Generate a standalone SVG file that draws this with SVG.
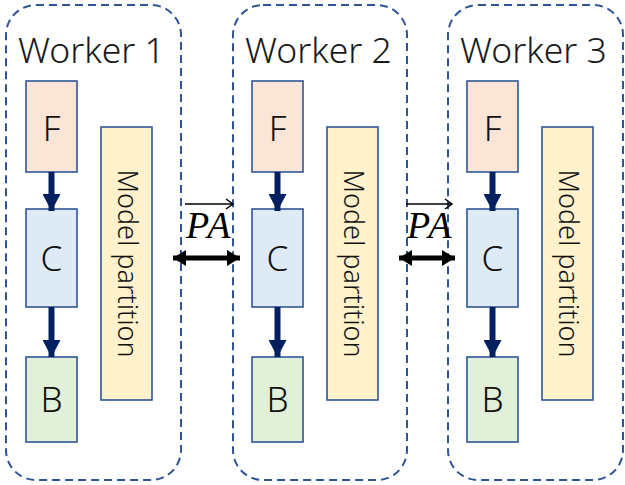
<svg xmlns="http://www.w3.org/2000/svg" width="625" height="485" viewBox="0 0 625 485">
<defs>
<style>
.worker{fill:#fff;stroke:#2F5597;stroke-width:2;stroke-dasharray:8,5}
.box{stroke:#2F5597;stroke-width:1.6}
.f{fill:#FBE5D6}.c{fill:#DEEBF7}.b{fill:#E2F0D9}.m{fill:#FFF2CC}
.title{font-family:"Noto Sans","DejaVu Sans",sans-serif;font-weight:300;font-size:35.5px;fill:#1a1a1a}
.lbl{font-family:"Noto Sans","DejaVu Sans",sans-serif;font-weight:300;font-size:35px;fill:#111;text-anchor:middle}
.mp{font-family:"Noto Sans","DejaVu Sans",sans-serif;font-weight:300;font-size:27px;fill:#111;text-anchor:middle}
.pa{font-family:"Liberation Serif","DejaVu Serif",serif;font-style:italic;font-size:38px;letter-spacing:3px;fill:#000}
.flow{stroke:#002060;stroke-width:6;fill:none}
.dbl{stroke:#000;stroke-width:5;fill:none}
.vec{stroke:#000;stroke-width:1.5;fill:none}
</style>
<marker id="ah" markerUnits="userSpaceOnUse" markerWidth="18" markerHeight="18" refX="17" refY="9" orient="auto">
<path d="M0,0 L17,9 L0,18 Z" fill="#002060"/>
</marker>
<marker id="dh" markerUnits="userSpaceOnUse" markerWidth="14" markerHeight="16" refX="13" refY="8" orient="auto-start-reverse">
<path d="M0,0 L13,8 L0,16 Z" fill="#000"/>
</marker>
<marker id="vh" markerUnits="userSpaceOnUse" markerWidth="10" markerHeight="12" refX="8" refY="6" orient="auto">
<path d="M1,1 L8,6 L1,11" fill="none" stroke="#000" stroke-width="1.5"/>
</marker>
</defs>

<g id="worker1">
<rect class="worker" x="6" y="5" width="175" height="475" rx="30"/>
<text class="title" x="18" y="63">Worker 1</text>
</g>
<g id="worker2">
<rect class="worker" x="233" y="5" width="174" height="475" rx="30"/>
<text class="title" x="245" y="63">Worker 2</text>
</g>
<g id="worker3">
<rect class="worker" x="448" y="5" width="175" height="475" rx="30"/>
<text class="title" x="460" y="63">Worker 3</text>
</g>

<g id="w1-F"><rect class="box f" x="26" y="81" width="51" height="91"/><text class="lbl" x="51.5" y="141">F</text></g>
<g id="w1-C"><rect class="box c" x="26" y="209" width="51" height="98"/><text class="lbl" x="51.5" y="271">C</text></g>
<g id="w1-B"><rect class="box b" x="26" y="357" width="51" height="85"/><text class="lbl" x="51.5" y="412">B</text></g>
<g id="w1-M"><rect class="box m" x="101" y="127" width="51" height="273"/><text class="mp" transform="translate(126.5,263.5) rotate(90)" y="9">Model partition</text></g>

<g id="w2-F"><rect class="box f" x="252" y="81" width="51" height="91"/><text class="lbl" x="277.5" y="141">F</text></g>
<g id="w2-C"><rect class="box c" x="252" y="209" width="51" height="98"/><text class="lbl" x="277.5" y="271">C</text></g>
<g id="w2-B"><rect class="box b" x="252" y="357" width="51" height="85"/><text class="lbl" x="277.5" y="412">B</text></g>
<g id="w2-M"><rect class="box m" x="327" y="127" width="51" height="273"/><text class="mp" transform="translate(352.5,263.5) rotate(90)" y="9">Model partition</text></g>

<g id="w3-F"><rect class="box f" x="467" y="81" width="51" height="91"/><text class="lbl" x="492.5" y="141">F</text></g>
<g id="w3-C"><rect class="box c" x="467" y="209" width="51" height="98"/><text class="lbl" x="492.5" y="271">C</text></g>
<g id="w3-B"><rect class="box b" x="467" y="357" width="51" height="85"/><text class="lbl" x="492.5" y="412">B</text></g>
<g id="w3-M"><rect class="box m" x="542" y="127" width="51" height="273"/><text class="mp" transform="translate(567.5,263.5) rotate(90)" y="9">Model partition</text></g>

<g id="pa1"><text class="pa" x="186" y="238">PA</text></g>
<g id="pa2"><text class="pa" x="407" y="238">PA</text></g>

<g id="connectors">
<line class="flow" x1="51.5" y1="172" x2="51.5" y2="211" marker-end="url(#ah)"/>
<line class="flow" x1="51.5" y1="307" x2="51.5" y2="357" marker-end="url(#ah)"/>
<line class="flow" x1="277.5" y1="172" x2="277.5" y2="211" marker-end="url(#ah)"/>
<line class="flow" x1="277.5" y1="307" x2="277.5" y2="357" marker-end="url(#ah)"/>
<line class="flow" x1="492.5" y1="172" x2="492.5" y2="211" marker-end="url(#ah)"/>
<line class="flow" x1="492.5" y1="307" x2="492.5" y2="357" marker-end="url(#ah)"/>
<line class="dbl" x1="173" y1="258" x2="240" y2="258" marker-start="url(#dh)" marker-end="url(#dh)"/>
<line class="dbl" x1="399" y1="258" x2="455" y2="258" marker-start="url(#dh)" marker-end="url(#dh)"/>
<line class="vec" x1="185" y1="204" x2="233" y2="204" marker-end="url(#vh)"/>
<line class="vec" x1="406" y1="204" x2="452" y2="204" marker-end="url(#vh)"/>
</g>
</svg>
